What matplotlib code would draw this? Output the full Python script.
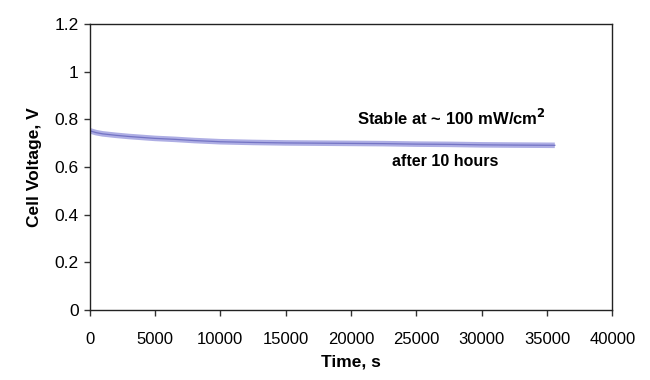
import matplotlib
matplotlib.use("Agg")
import matplotlib.pyplot as plt
from matplotlib import font_manager

time_s = [0, 500, 1000, 2000, 3000, 4000, 5000, 6500, 8000, 10000, 12500, 15000,
          17500, 20000, 22500, 25000, 27500, 30000, 32500, 35600]
voltage = [0.752, 0.744, 0.739, 0.733, 0.728, 0.724, 0.72, 0.716, 0.711, 0.706,
           0.703, 0.701, 0.700, 0.699, 0.698, 0.696, 0.695, 0.693, 0.692, 0.691]

x_ticks = [0, 5000, 10000, 15000, 20000, 25000, 30000, 35000, 40000]
y_ticks = [0, 0.2, 0.4, 0.6, 0.8, 1.0, 1.2]
y_labels = ["0", "0.2", "0.4", "0.6", "0.8", "1", "1.2"]

names = {f.name for f in font_manager.fontManager.ttflist}
narrow = "Liberation Sans Narrow" if "Liberation Sans Narrow" in names else "Liberation Sans"
plt.rcParams['font.family'] = ['Liberation Sans', 'DejaVu Sans']

fig = plt.figure(figsize=(6.5, 3.8), dpi=100)
ax = fig.add_axes([0.138, 0.184, 0.804, 0.753])

ax.plot(time_s, voltage, color='#aeaee4', lw=4.0, solid_capstyle='butt')
ax.plot(time_s, voltage, color='#7474c4', lw=0.9)

ax.set_xlim(0, 40000)
ax.set_ylim(0, 1.2)
ax.set_xticks(x_ticks)
ax.set_xticklabels([str(t) for t in x_ticks], family=[narrow, 'DejaVu Sans'], fontsize=12)
ax.set_yticks(y_ticks)
ax.set_yticklabels(y_labels, fontsize=12.5)
ax.tick_params(direction='out', length=4, width=1, color='#333333', pad=4)
ax.tick_params(axis='x', pad=12)
for s in ax.spines.values():
    s.set_linewidth(1.0)
    s.set_color('#222222')

ax.set_xlabel("Time, s", fontweight='bold', fontsize=12.5, labelpad=5)
ax.set_ylabel("Cell Voltage, V", fontweight='bold', fontsize=12.5, labelpad=9)

ax.text(27700, 0.805, "Stable at ~ 100 mW/cm$^{\\mathbf{2}}$", fontweight='bold', fontsize=12,
        ha='center', va='center')
ax.text(27200, 0.625, "after 10 hours", fontweight='bold', fontsize=11.5,
        ha='center', va='center')

fig.savefig("out.png", dpi=100)
